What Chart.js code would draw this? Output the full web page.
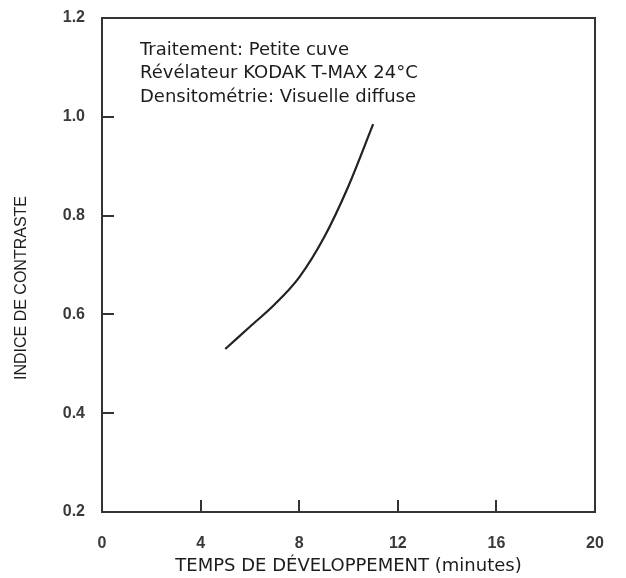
<!DOCTYPE html>
<html>
<head>
<meta charset="utf-8">
<script src="https://cdn.jsdelivr.net/npm/chart.js@4.4.1/dist/chart.umd.min.js"></script>
<style>
  html, body { margin: 0; padding: 0; background: #fff; }
  #wrap { width: 626px; height: 578px; }
</style>
</head>
<body>
<div id="wrap"><canvas id="contrastChart" width="626" height="578"></canvas></div>
<script>
// values
const devTimes = [5, 6, 7, 8, 9, 10, 11];
const contrastIndex = [0.53, 0.575, 0.62, 0.675, 0.755, 0.86, 0.985];
const xTicks = [0, 4, 8, 12, 16, 20];
const yTicks = [0.2, 0.4, 0.6, 0.8, 1.0, 1.2];
const noteLines = ['Traitement: Petite cuve', 'Révélateur KODAK T-MAX 24°C', 'Densitométrie: Visuelle diffuse'];
const xTitle = 'TEMPS DE DÉVELOPPEMENT (minutes)';
const yTitle = 'INDICE DE CONTRASTE';

const ink = '#1c1c1c';

// frame, inward tick marks, y title and the note block
const framePlugin = {
    id: 'frame',
    afterDraw(chart) {
        const { ctx, chartArea: a, scales } = chart;
        const x = scales.x, y = scales.y;
        ctx.save();
        ctx.strokeStyle = '#333';
        ctx.lineWidth = 2;
        ctx.strokeRect(a.left, a.top, a.right - a.left, a.bottom - a.top);

        ctx.beginPath();
        yTicks.slice(1, -1).forEach(v => {
            const py = Math.round(y.getPixelForValue(v));
            ctx.moveTo(a.left, py);
            ctx.lineTo(a.left + 12, py);
        });
        xTicks.slice(1, -1).forEach(v => {
            const px = Math.round(x.getPixelForValue(v));
            ctx.moveTo(px, a.bottom);
            ctx.lineTo(px, a.bottom - 12);
        });
        ctx.stroke();

        // y axis title, sits a bit below the plot middle
        ctx.fillStyle = ink;
        ctx.font = '16px "Liberation Sans", Arial, sans-serif';
        ctx.textAlign = 'center';
        ctx.textBaseline = 'middle';
        ctx.translate(22, 288);
        ctx.rotate(-Math.PI / 2);
        ctx.fillText(yTitle, 0, 0);
        ctx.setTransform(1, 0, 0, 1, 0, 0);

        ctx.font = '18px "DejaVu Sans", sans-serif';
        ctx.textAlign = 'left';
        noteLines.forEach((line, i) => {
            ctx.fillText(line, a.left + 38, 50 + i * 23.5);
        });
        ctx.restore();
    }
};

const ctx = document.getElementById('contrastChart').getContext('2d');
new Chart(ctx, {
    type: 'line',
    data: {
        datasets: [{
            data: devTimes.map((t, i) => ({ x: t, y: contrastIndex[i] })),
            borderColor: '#222',
            borderWidth: 2.2,
            pointRadius: 0,
            cubicInterpolationMode: 'monotone',
            fill: false
        }]
    },
    options: {
        responsive: false,
        animation: false,
        devicePixelRatio: 1,
        layout: { padding: { top: 18, right: 31, bottom: 0, left: 0 } },
        plugins: {
            legend: { display: false },
            tooltip: { enabled: false }
        },
        scales: {
            x: {
                type: 'linear',
                min: 0,
                max: 20,
                afterBuildTicks: s => { s.ticks = xTicks.map(v => ({ value: v })); },
                afterFit: s => {
                    s.height = 66;
                    s.paddingLeft = 0;
                    s.paddingRight = 0;
                },
                grid: { drawOnChartArea: false, drawTicks: false },
                border: { display: false },
                ticks: {
                    padding: 22,
                    color: '#3a3a3a',
                    font: { family: '"Liberation Sans", Arial, sans-serif', size: 16, weight: 'bold' },
                    callback: v => String(v)
                },
                title: {
                    display: true,
                    text: xTitle,
                    color: ink,
                    font: { family: '"DejaVu Sans", sans-serif', size: 18 },
                    padding: { top: 0, bottom: 1 }
                }
            },
            y: {
                type: 'linear',
                min: 0.2,
                max: 1.2,
                afterBuildTicks: s => { s.ticks = yTicks.map(v => ({ value: v })); },
                afterFit: s => {
                    s.width = 102;
                    s.paddingTop = 0;
                    s.paddingBottom = 0;
                },
                grid: { drawOnChartArea: false, drawTicks: false },
                border: { display: false },
                ticks: {
                    padding: 17,
                    color: '#3a3a3a',
                    font: { family: '"Liberation Sans", Arial, sans-serif', size: 16, weight: 'bold' },
                    callback: v => v.toFixed(1)
                }
            }
        }
    },
    plugins: [framePlugin]
});
</script>
</body>
</html>
